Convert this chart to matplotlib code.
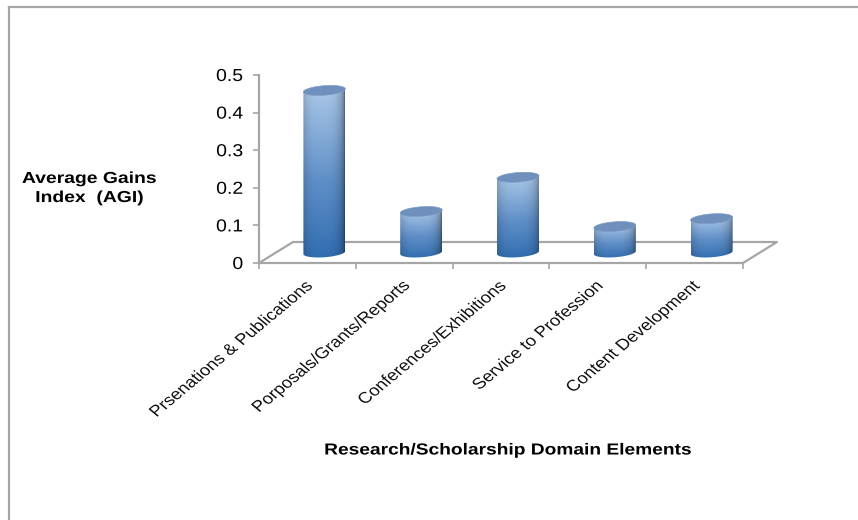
import matplotlib
matplotlib.use('Agg')
import matplotlib.pyplot as plt
from matplotlib.patches import PathPatch
from matplotlib.path import Path
from matplotlib.patheffects import AbstractPathEffect
from matplotlib.transforms import Affine2D
from matplotlib.colors import LinearSegmentedColormap
import numpy as np

plt.rcParams['font.family'] = ['Liberation Sans', 'DejaVu Sans']

categories = ['Prsenations & Publications', 'Porposals/Grants/Reports',
              'Conferences/Exhibitions', 'Service to Profession', 'Content Development']
values = [0.431, 0.109, 0.200, 0.069, 0.090]
y_ticks = [0, 0.1, 0.2, 0.3, 0.4, 0.5]
y_tick_labels = ['0', '0.1', '0.2', '0.3', '0.4', '0.5']

W, H = 858, 520
grey = '#a6a6a6'


class Stretch(AbstractPathEffect):
    # the reference picture is stretched sideways, text included
    def __init__(self, x0, sx):
        super().__init__()
        self.x0 = x0
        self.sx = sx

    def draw_path(self, renderer, gc, tpath, affine, rgbFace=None):
        wide = affine + Affine2D().translate(-self.x0, 0).scale(self.sx, 1).translate(self.x0, 0)
        renderer.draw_path(gc, tpath, wide, rgbFace)


fig = plt.figure(figsize=(W / 100, H / 100), dpi=100)

# outer frame, only top and left are visible in the picture
fig.add_artist(plt.Line2D([9 / W, 9 / W], [0, 1 - 7 / H], color=grey, lw=1.6))
fig.add_artist(plt.Line2D([9 / W, 1], [1 - 7 / H, 1 - 7 / H], color=grey, lw=1.6))

# axes box = front of the floor and the value axis
left, right, top, bottom = 259, 743, 75, 263
ax = fig.add_axes([left / W, 1 - bottom / H, (right - left) / W, (bottom - top) / H])
ax.set_xlim(-0.5, 4.5)
ax.set_ylim(0, 0.5)
ax.patch.set_alpha(0)
for s in ['top', 'right']:
    ax.spines[s].set_visible(False)
for s in ['left', 'bottom']:
    ax.spines[s].set_color(grey)
    ax.spines[s].set_linewidth(1.6)

# floor depth in data units
px_x = (right - left) / 5
px_y = (bottom - top) / 0.5
dx = 34 / px_x
dy = 21 / px_y
ax.plot([-0.5, -0.5 + dx, 4.5 + dx, 4.5], [0, dy, dy, 0], color=grey, lw=1.6,
        clip_on=False, zorder=1)

ax.set_yticks(y_ticks)
ax.set_yticklabels(y_tick_labels, fontsize=12.5, color='black')
ax.set_xticks([-0.5, 0.5, 1.5, 2.5, 3.5, 4.5])
ax.set_xticklabels([])
ax.tick_params(axis='both', color=grey, width=1.2, length=4, pad=7.4)
for lab in ax.get_yticklabels():
    lab.set_path_effects([Stretch(243, 1.12)])

# category labels, rotated; each one ends under its tick gap
for i, name in enumerate(categories):
    px = ax.transData.transform((i, 0))[0] + 4
    t = ax.annotate(name, xy=(i, 0), xytext=(-2, -11), textcoords='offset points',
                    rotation=45, rotation_mode='anchor', ha='right', va='top',
                    fontsize=11.2, color='#111111', annotation_clip=False)
    t.set_path_effects([Stretch(px, 1.2)])

# cylinders: horizontal shading times a vertical blue ramp
ramp = LinearSegmentedColormap.from_list('bar', ['#2f6cb0', '#5f8fc8', '#a9c7e8'])
bar_w = 42 / px_x
ell_h = 9.5 / px_y
tilt = 1.5 / px_y
xs = np.linspace(-1, 1, 64)
shade = 0.5 + 0.5 * np.sqrt(1 - (np.abs(xs + 0.1) / 1.1) ** 3)
ang = np.linspace(0, 2 * np.pi, 81)


def ring(cx, cy):
    # slightly tilted ellipse, left side lower than the right
    return np.column_stack([cx + bar_w / 2 * np.cos(ang),
                            cy + ell_h / 2 * np.sin(ang) + tilt * np.cos(ang)])


for i, v in enumerate(values):
    cx = i + dx / 2
    y0 = dy / 2
    y1 = y0 + v
    t = np.linspace(1, 0, 128)[:, None]
    img = ramp(t ** 0.9)[:, :, :3] * shade[None, :, None]
    im = ax.imshow(img, extent=[cx - bar_w / 2, cx + bar_w / 2, y0 - ell_h / 2 - tilt, y1 + tilt],
                   aspect='auto', zorder=3, interpolation='bilinear')
    lower = ring(cx, y0)[40:]  # underside arc of the base
    outline = np.vstack([lower, [[cx + bar_w / 2, y1 + tilt], [cx - bar_w / 2, y1 - tilt]], lower[:1]])
    clip = PathPatch(Path(outline), transform=ax.transData, facecolor='none', edgecolor='none')
    ax.add_patch(clip)
    im.set_clip_path(clip)
    ax.fill(ring(cx, y1)[:, 0], ring(cx, y1)[:, 1], facecolor='#6f8fbc', edgecolor='#7f9cc4',
            lw=0.5, zorder=4, clip_on=False)
ax.set_xlim(-0.5, 4.5)
ax.set_ylim(0, 0.5)

agi = fig.text(89.5 / W, 1 - 188 / H, 'Average Gains\nIndex  (AGI)', ha='center', va='center',
               fontsize=11.5, fontweight='bold', linespacing=1.34, color='black')
agi.set_path_effects([Stretch(89.5, 1.21)])
xlab = fig.text(509 / W, 1 - 450 / H, 'Research/Scholarship Domain Elements', ha='center', va='center',
                fontsize=11.5, fontweight='bold', color='black')
xlab.set_path_effects([Stretch(509, 1.2)])

fig.savefig('out.png', dpi=100, facecolor='white')
